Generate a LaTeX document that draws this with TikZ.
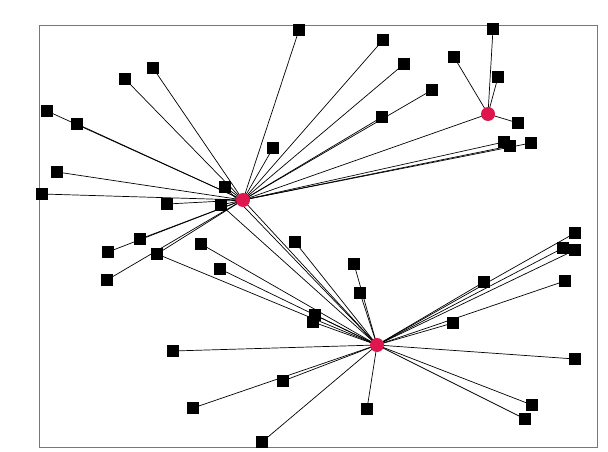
\documentclass[tikz,border=0pt]{standalone}
\usetikzlibrary{backgrounds}
\definecolor{hubred}{RGB}{222,24,78}
\definecolor{framegray}{RGB}{120,120,120}
\tikzset{
  sq/.style={fill=black,draw=none,minimum size=12.5pt,inner sep=0pt,outer sep=0pt,rectangle},
  hub/.style={fill=hubred,draw=none,circle,minimum size=14pt,inner sep=0pt,outer sep=0pt},
  lk/.style={draw=black,line width=0.7pt},
}
\begin{document}
\begin{tikzpicture}[x=1pt,y=-1pt]
\useasboundingbox (0,0) rectangle (608,452);
% hubs
\node[hub] (h1) at (243,200) {};
\node[hub] (h2) at (488,114) {};
\node[hub] (h3) at (377,345) {};
% squares
\node[sq] (a1) at (299,30) {};
\node[sq] (a2) at (153,68) {};
\node[sq] (a3) at (125,79) {};
\node[sq] (a4) at (47,111) {};
\node[sq] (a5) at (77,124) {};
\node[sq] (a6) at (57,172) {};
\node[sq] (a7) at (42,194) {};
\node[sq] (a8) at (167,204) {};
\node[sq] (a9) at (225,187) {};
\node[sq] (a10) at (221,205) {};
\node[sq] (a11) at (273,148) {};
\node[sq] (b1) at (383,40) {};
\node[sq] (b2) at (404,64) {};
\node[sq] (b3) at (432,90) {};
\node[sq] (b4) at (382,117) {};
\node[sq] (b5) at (493,29) {};
\node[sq] (b6) at (454,57) {};
\node[sq] (b7) at (498,77) {};
\node[sq] (b8) at (518,123) {};
\node[sq] (b9) at (504,142) {};
\node[sq] (b10) at (510,146) {};
\node[sq] (b11) at (531,143) {};
\node[sq] (c1) at (140,239) {};
\node[sq] (c2) at (108,252) {};
\node[sq] (c3) at (157,254) {};
\node[sq] (c4) at (107,280) {};
\node[sq] (c5) at (201,244) {};
\node[sq] (c6) at (220,269) {};
\node[sq] (c7) at (295,242) {};
\node[sq] (c8) at (173,351) {};
\node[sq] (c9) at (283,381) {};
\node[sq] (c10) at (193,408) {};
\node[sq] (c11) at (262,442) {};
\node[sq] (c12) at (315,315) {};
\node[sq] (c13) at (313,322) {};
\node[sq] (c14) at (354,264) {};
\node[sq] (c15) at (360,293) {};
\node[sq] (d1) at (575,233) {};
\node[sq] (d2) at (563,248) {};
\node[sq] (d3) at (575,250) {};
\node[sq] (d4) at (484,282) {};
\node[sq] (d5) at (565,281) {};
\node[sq] (d6) at (453,323) {};
\node[sq] (d7) at (575,359) {};
\node[sq] (d8) at (532,405) {};
\node[sq] (d9) at (525,419) {};
\node[sq] (d10) at (367,409) {};
\begin{scope}[on background layer]
\fill[white] (0,0) rectangle (608,452);
\draw[framegray,line width=1pt] (39,26) rectangle (597,447);
\foreach \n in {a1,a2,a3,a4,a5,a6,a7,a8,a9,a10,a11,b1,b2,b3,b4,b9,b10,b11,c1,c2,c3,c4,h2}
  \draw[lk] (h1.center) -- (\n.center);
\foreach \n in {b5,b6,b7,b8}
  \draw[lk] (h2.center) -- (\n.center);
\foreach \n in {h1,a9,a10,c3,c5,c6,c7,c8,c9,c10,c11,c12,c13,c14,c15,d1,d2,d3,d4,d5,d6,d7,d8,d9,d10}
  \draw[lk] (h3.center) -- (\n.center);
\end{scope}
\end{tikzpicture}
\end{document}
